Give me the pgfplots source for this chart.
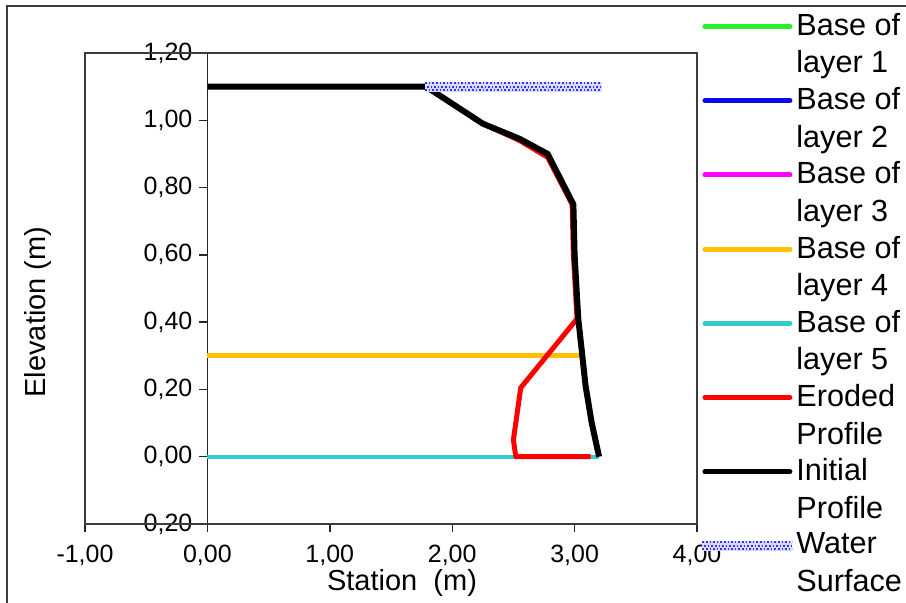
\documentclass[border=0pt]{standalone}
\usepackage{pgfplots}
\pgfplotsset{compat=1.18}
\usepackage{fontspec}
\setmainfont{Liberation Sans}

\definecolor{lay1}{RGB}{40,240,40}
\definecolor{lay2}{RGB}{10,10,230}
\definecolor{lay3}{RGB}{255,0,255}
\definecolor{lay4}{RGB}{255,192,0}
\definecolor{lay5}{RGB}{51,204,204}
\definecolor{eroded}{RGB}{255,0,0}
\definecolor{framegray}{RGB}{60,60,60}

\tikzset{
  waterstyle/.style={draw=blue!15, line width=5pt,
    postaction={draw=blue!80, line width=0.9pt, dash pattern=on 0.8pt off 1.0pt, transform canvas={yshift=1.7pt}},
    postaction={draw=blue!80, line width=0.9pt, dash pattern=on 0.8pt off 1.0pt, dash phase=0.9pt},
    postaction={draw=blue!80, line width=0.9pt, dash pattern=on 0.8pt off 1.0pt, transform canvas={yshift=-1.7pt}}},
}

\begin{document}
\begin{tikzpicture}
\useasboundingbox (0,0) rectangle (453pt,-301.5pt);
\draw[line width=1pt, framegray] (3.5pt,-301.5pt) -- (3.5pt,-3pt) -- (453pt,-3pt);
\begin{axis}[
  at={(42.5pt,-262pt)}, anchor=south west,
  scale only axis, width=306pt, height=235.5pt,
  xmin=-1, xmax=4, ymin=-0.2, ymax=1.2,
  axis x line=bottom, axis y line=middle,
  axis line style={-, black!85, line width=0.7pt},
  hide obscured x ticks=false, hide obscured y ticks=false,
  xtick={-1,0,1,2,3,4},
  xticklabels={{-1,00},{0,00},{1,00},{2,00},{3,00},{4,00}},
  ytick={-0.2,0,0.2,0.4,0.6,0.8,1.0,1.2},
  yticklabels={{0,20},{0,00},{0,20},{0,40},{0,60},{0,80},{1,00},{1,20}},
  tick align=outside, major tick length=4pt,
  tick style={black!85, line width=0.7pt},
  tick label style={font=\fontsize{12.5}{14}\selectfont},
  yticklabel style={anchor=east},
  xticklabel style={yshift=-3pt},
  xlabel={Station\ \ (m)}, ylabel={Elevation (m)},
  label style={font=\fontsize{14.5}{17}\selectfont},
  xlabel style={at={(axis description cs:0.518,-0.125)}, anchor=center},
  ylabel style={at={(axis description cs:-0.077,0.45)}, anchor=center, rotate=90},
  after end axis/.code={\draw[framegray, line width=0.7pt] (rel axis cs:0,0) rectangle (rel axis cs:1,1);},
  legend style={at={(axis description cs:1.0,1.094)}, anchor=north west,
    draw=none, fill=none, inner sep=0pt,
    font=\fontsize{15.3}{18.75}\selectfont,
    cells={align=left, anchor=west}, row sep=1.8pt, column sep=-2.5pt},
  legend cell align=left,
  legend image code/.code={\draw[#1, line width=2.5pt, line cap=round] (1.25pt,9pt) -- (43.75pt,9pt);},
]
\addplot[lay1, line width=2.5pt] coordinates {(0,1.10) (1.78,1.10)};
\addlegendentry{Base of\\layer 1}
\addplot[lay2, line width=2.5pt] coordinates {(0,1.10) (1.78,1.10)};
\addlegendentry{Base of\\layer 2}
\addplot[lay3, line width=2.5pt] coordinates {(0,1.10) (1.78,1.10)};
\addlegendentry{Base of\\layer 3}
\addplot[lay4, line width=2.5pt] coordinates {(0,0.30) (3.07,0.30)};
\addlegendentry{Base of\\layer 4}
\addplot[lay5, line width=2pt] coordinates {(0,0.00) (3.20,0.00)};
\addlegendentry{Base of\\layer 5}
\addplot[eroded, line width=2.5pt, line join=round] coordinates {
  (0,1.10) (1.78,1.10) (1.85,1.085) (2.25,0.99) (2.55,0.94) (2.78,0.89) (2.98,0.75)
  (2.99,0.60) (3.02,0.41) (2.56,0.205) (2.50,0.05) (2.52,0.00) (3.13,0.00)};
\addlegendentry{Eroded\\Profile}
\addplot[black, line width=3pt, line join=round] coordinates {
  (0,1.10) (1.78,1.10) (1.85,1.085) (2.25,0.99) (2.55,0.945) (2.78,0.90) (2.99,0.75)
  (3.00,0.60) (3.03,0.41) (3.09,0.21) (3.14,0.10) (3.20,0.00)};
\addlegendentry{Initial\\Profile}
\addplot[waterstyle,
  legend image code/.code={\draw[waterstyle] (0pt,9pt) -- (45pt,9pt);}]
  coordinates {(1.78,1.10) (3.22,1.10)};
\addlegendentry{Water\\Surface}
\end{axis}
\end{tikzpicture}
\end{document}
